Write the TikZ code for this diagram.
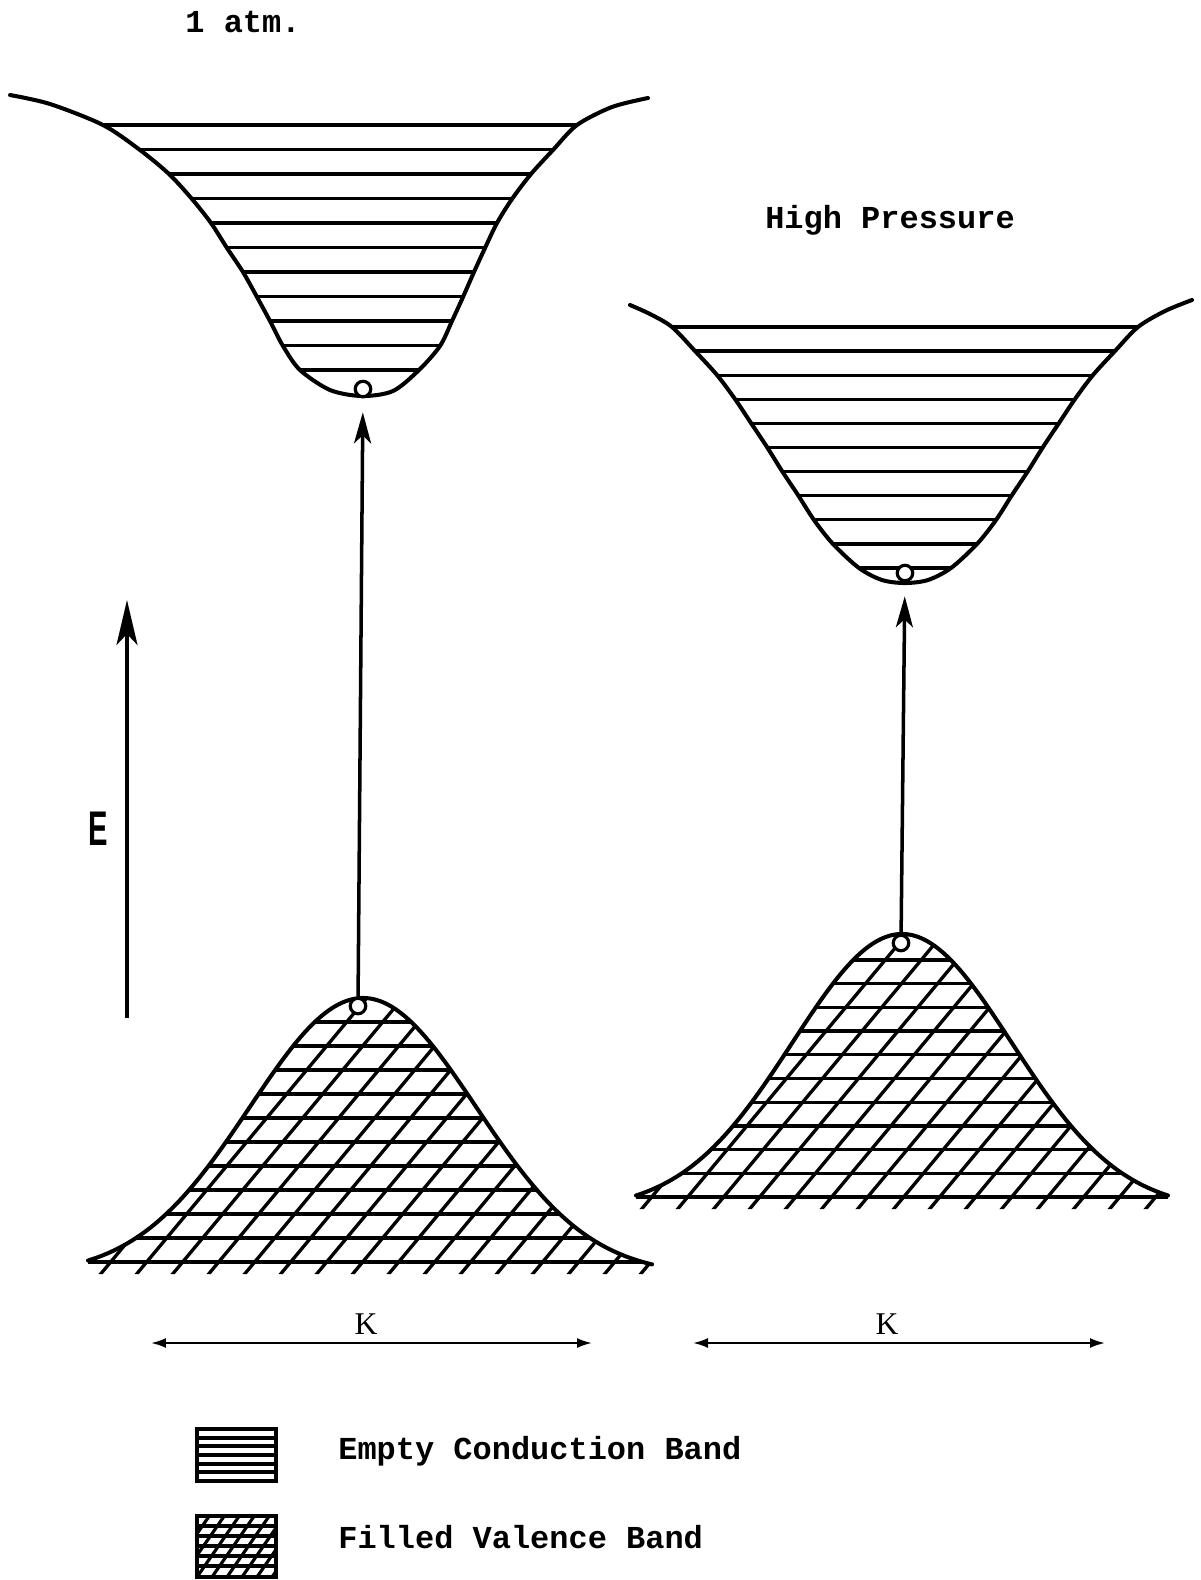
\documentclass[tikz,border=0pt]{standalone}
\usepackage{fontspec}
\setmainfont{Liberation Serif}
\setsansfont{Liberation Sans}
\setmonofont{Liberation Mono}
\usepackage{tikz}
\usetikzlibrary{arrows.meta,calc,positioning}

\tikzset{
  bandline/.style={line width=2.3pt, line cap=round, line join=round},
  hatch/.style={line width=1.9pt},
  tw/.style={font=\fontsize{18.2}{22}\selectfont\ttfamily\bfseries, inner sep=0pt},
  hole/.style={circle, draw, line width=1.8pt, fill=white, minimum size=0.31cm, inner sep=0pt},
  jump/.style={line width=2pt, -{Stealth[length=0.62cm, width=0.34cm, inset=0.16cm]}, shorten >=0.28cm},
  eaxis/.style={line width=1.9pt, -{Stealth[length=0.9cm, width=0.42cm, inset=0.22cm]}},
  kaxis/.style={line width=1.2pt, {Latex[length=0.3cm, width=0.2cm]}-{Latex[length=0.3cm, width=0.2cm]}},
  legbox/.style={draw, line width=1.8pt, minimum width=1.58cm, inner sep=0pt},
}

% band edges, in pixels of the original sheet
\def\lcb{plot[smooth] coordinates {(10,95) (50,104) (103,125) (140,150) (169,174) (192,199) (211,223) (227,248) (243,272) (257,297) (270,321) (283,346) (300,370) (330,390) (362,396) (393,391) (419,370) (440,346) (452,321) (463,297) (474,272) (485,248) (497,223) (512,199) (531,174) (553,150) (577,125) (612,107) (648,98)}}
\def\rcb{plot[smooth] coordinates {(630,305) (650,314) (672,327) (695,351) (717,375) (735,399) (751,423) (767,447) (782,471) (798,495) (814,520) (833,544) (859,568) (882,580) (905,583) (928,580) (951,568) (977,544) (996,520) (1012,495) (1028,471) (1043,447) (1059,423) (1075,399) (1093,375) (1115,351) (1138,327) (1165,311) (1192,300)}}
\def\lvb{plot[domain=88:652, samples=90, smooth] (\x,{1275-277*exp(-((\x-363)/160)^2)})}
\def\rvb{plot[domain=636:1168, samples=90, smooth] (\x,{1210-276*exp(-((\x-902)/155)^2)})}

\begin{document}
\begin{tikzpicture}[x=0.02cm, y=-0.02cm]
  \useasboundingbox (0,0) rectangle (1201,1580);

  \node[tw] (atm) at (243,22) {1 atm.};
  \node[tw] (hp) at (890,220) {High Pressure};

  % conduction bands
  \begin{scope}
    \clip \lcb -- (648,0) -- (10,0) -- cycle;
    \foreach \k in {0,...,10} \draw[hatch] (0,125+24.5*\k) -- (700,125+24.5*\k);
  \end{scope}
  \draw[bandline] \lcb;
  \begin{scope}
    \clip \rcb -- (1192,250) -- (630,250) -- cycle;
    \foreach \k in {0,...,10} \draw[hatch] (600,327+24.1*\k) -- (1201,327+24.1*\k);
  \end{scope}
  \draw[bandline] \rcb;

  % valence bands
  \begin{scope}
    \clip \lvb -- (652,1274) -- (88,1274) -- cycle;
    \foreach \k in {0,...,10} \draw[hatch] (60,1262-24*\k) -- (700,1262-24*\k);
    \foreach \k in {-10,...,18} \draw[hatch] (99+36*\k,1276) -- ++(300,-360);
  \end{scope}
  \draw[bandline] \lvb;
  \begin{scope}
    \clip \rvb -- (1168,1209) -- (636,1209) -- cycle;
    \foreach \k in {0,...,10} \draw[hatch] (600,1197-23.7*\k) -- (1201,1197-23.7*\k);
    \foreach \k in {-10,...,18} \draw[hatch] (640+36*\k,1211) -- ++(300,-360);
  \end{scope}
  \draw[bandline] \rvb;

  % holes and transitions
  \node[hole] (cL) at (363,389) {};
  \node[hole] (vL) at (358,1006) {};
  \node[hole] (cR) at (905,573) {};
  \node[hole] (vR) at (901,943) {};
  \draw[jump] (vL) -- (cL);
  \draw[jump] (vR) -- (cR);

  % energy axis
  \coordinate (Elo) at (127,1018);
  \coordinate (Ehi) at (127,600);
  \draw[eaxis] (Elo) -- (Ehi);
  \node[font=\fontsize{27.7}{30}\selectfont\sffamily\bfseries, xscale=0.6] (E) at (98,829) {E};

  % k axes
  \coordinate (kLa) at (151,1343);
  \coordinate (kLb) at (592,1343);
  \coordinate (kRa) at (693,1343);
  \coordinate (kRb) at (1105,1343);
  \draw[kaxis] (kLa) -- (kLb);
  \draw[kaxis] (kRa) -- (kRb);
  \node[font=\fontsize{18}{20}\selectfont] (kL) at (366,1324) {K};
  \node[font=\fontsize{18}{20}\selectfont] (kR) at (887,1324) {K};

  % legend
  \node[legbox, minimum height=1.04cm,
    path picture={\foreach \i in {1,...,5}
      \draw[line width=2.4pt] ([yshift=-\i*0.173cm]path picture bounding box.north west) -- ++(2cm,0);}]
    (lgC) at (236.5,1455) {};
  \node[legbox, minimum height=1.22cm,
    path picture={\foreach \i in {1,...,5}
      \draw[line width=2.2pt] ([yshift=-\i*0.2cm]path picture bounding box.north west) -- ++(2cm,0);
      \foreach \i in {-4,...,6}
      \draw[line width=1.8pt] ([xshift=\i*0.3cm]path picture bounding box.south west) -- ++(0.9cm,1.3cm);}]
    (lgV) at (236.5,1546.5) {};
  \node[tw, anchor=west] (lgCt) at (338,1451) {Empty Conduction Band};
  \node[tw, anchor=west] (lgVt) at (338,1537) {Filled Valence Band};
\end{tikzpicture}
\end{document}
